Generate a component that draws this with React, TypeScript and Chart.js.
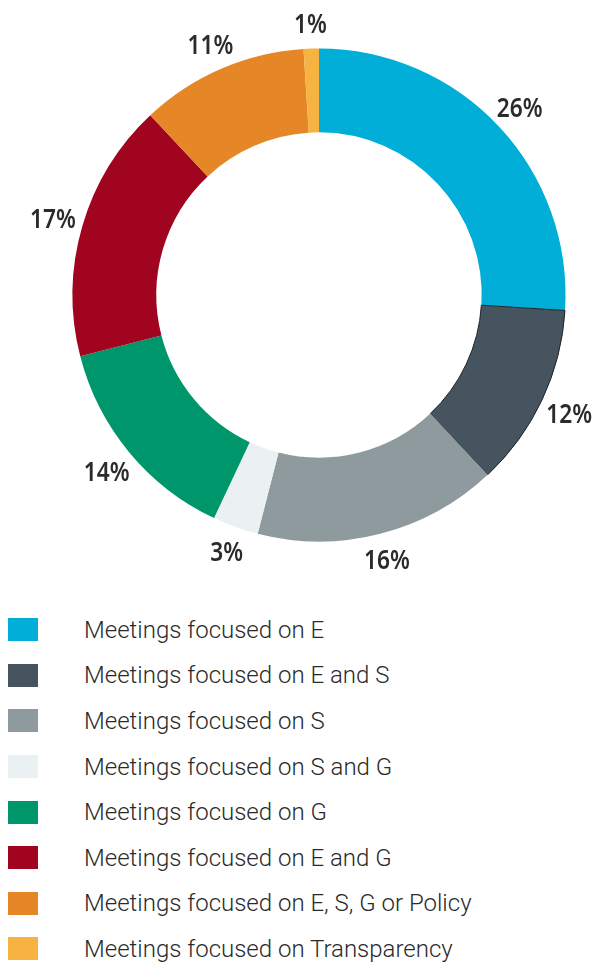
import React, { useEffect, useRef } from 'react';
import { Chart, registerables } from 'chart.js';

Chart.register(...registerables);

const categories = [
  'Meetings focused on E',
  'Meetings focused on E and S',
  'Meetings focused on S',
  'Meetings focused on S and G',
  'Meetings focused on G',
  'Meetings focused on E and G',
  'Meetings focused on E, S, G or Policy',
  'Meetings focused on Transparency',
];
const values = [26, 12, 16, 3, 14, 17, 11, 1];
const valueLabels = ['26%', '12%', '16%', '3%', '14%', '17%', '11%', '1%'];
const colors = ['#00AED8', '#45545F', '#8F9A9F', '#EBF0F2', '#00966C', '#A0041E', '#E58726', '#F6B342'];
const borderWidths = [0, 1, 0, 0, 0, 0, 0, 0];

const labelPlugin = {
  id: 'outerLabels',
  afterDraw(chart: any) {
    const ctx = chart.ctx;
    const meta = chart.getDatasetMeta(0);
    const sx = 0.84;
    ctx.save();
    ctx.font = '600 27px "Noto Sans", "Open Sans", sans-serif';
    ctx.fillStyle = '#2b2b2b';
    ctx.textAlign = 'center';
    ctx.textBaseline = 'alphabetic';
    meta.data.forEach((arc: any, i: number) => {
      const p = arc.getProps(['x', 'y', 'startAngle', 'endAngle', 'outerRadius'], true);
      const a = (p.startAngle + p.endAngle) / 2;
      const text = valueLabels[i];
      const hw = (ctx.measureText(text).width * sx) / 2;
      const hh = 18;
      const ext = Math.sqrt(Math.pow(Math.cos(a) * hw, 2) + Math.pow(Math.sin(a) * hh, 2));
      const r = p.outerRadius + 8 + ext;
      const tx = p.x + Math.cos(a) * r;
      const ty = p.y + Math.sin(a) * r + 10;
      ctx.save();
      ctx.translate(tx, ty);
      ctx.scale(sx, 1);
      ctx.fillText(text, 0, 0);
      ctx.restore();
    });
    ctx.restore();
  },
};

export default function App() {
  const ref = useRef<HTMLCanvasElement>(null);
  useEffect(() => {
    if (!ref.current) return;
    const chart = new Chart(ref.current, {
      type: 'doughnut',
      data: {
        labels: categories,
        datasets: [
          {
            data: values,
            backgroundColor: colors,
            borderColor: '#1e2328',
            borderWidth: borderWidths,
          },
        ],
      },
      options: {
        responsive: false,
        animation: false,
        cutout: '66%',
        layout: { padding: { left: 72, right: 31, top: 48, bottom: 48 } },
        plugins: { legend: { display: false }, tooltip: { enabled: false } },
      },
      plugins: [labelPlugin],
    } as any);
    return () => chart.destroy();
  }, []);

  return (
    <div style={{ position: 'absolute', left: 0, top: 0, width: 597, height: 967, background: '#fff' }}>
      <canvas ref={ref} width={597} height={590} style={{ position: 'absolute', left: 0, top: 0 }} />
      <div style={{ position: 'absolute', left: 0, top: 607, width: 597 }}>
        {categories.map((c, i) => (
          <div key={c} style={{ height: 45.6, display: 'flex', alignItems: 'center' }}>
            <div style={{ width: 30, height: 23, marginLeft: 8, background: colors[i], flex: 'none' }} />
            <div
              style={{
                marginLeft: 46,
                fontFamily: 'Roboto, sans-serif',
                fontWeight: 300,
                fontSize: 24,
                color: '#2a2a2a',
                whiteSpace: 'nowrap',
              }}
            >
              {c}
            </div>
          </div>
        ))}
      </div>
    </div>
  );
}
